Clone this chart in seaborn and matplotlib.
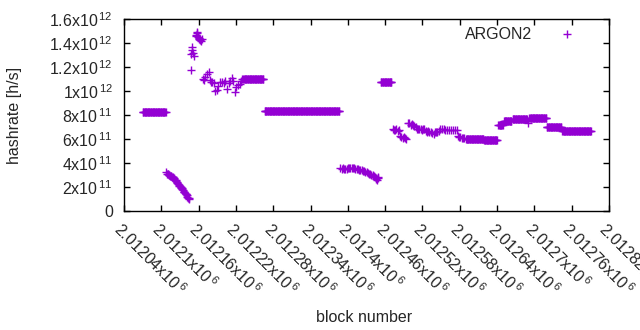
import numpy as np
import pandas as pd
import matplotlib
matplotlib.use('Agg')
import matplotlib.pyplot as plt
import seaborn as sns

# flat stretches of the series (first block, last block, hashrate)
flat_first = [2012070, 2012232, 2012266, 2012453, 2012590, 2012619, 2012642, 2012651, 2012665, 2012692, 2012720, 2012745]
flat_last = [2012107, 2012264, 2012386, 2012470, 2012618, 2012640, 2012649, 2012663, 2012688, 2012719, 2012743, 2012791]
flat_rate = [8.22e11, 1.10e12, 8.30e11, 1.071e12, 6.03e11, 5.94e11, 7.20e11, 7.46e11, 7.63e11, 7.71e11, 7.02e11, 6.69e11]

# falling stretch after the first plateau
drop_block = [2012108, 2012109, 2012110, 2012111, 2012112, 2012113, 2012114, 2012115, 2012116, 2012117,
              2012118, 2012119, 2012120, 2012121, 2012122, 2012123, 2012124, 2012125, 2012126, 2012127,
              2012128, 2012129, 2012130, 2012131, 2012132, 2012133, 2012134, 2012135, 2012136, 2012137,
              2012138, 2012139, 2012140, 2012141, 2012142, 2012143, 2012144, 2012145]
drop_rate = [3.22e11, 3.10e11, 3.08e11, 3.05e11, 2.98e11, 3.00e11, 2.94e11, 2.90e11, 2.88e11, 2.86e11,
             2.83e11, 2.78e11, 2.72e11, 2.67e11, 2.62e11, 2.55e11, 2.46e11, 2.39e11, 2.33e11, 2.25e11,
             2.17e11, 2.12e11, 2.05e11, 2.00e11, 1.95e11, 1.89e11, 1.80e11, 1.72e11, 1.61e11, 1.55e11,
             1.50e11, 1.45e11, 1.39e11, 1.30e11, 1.19e11, 1.12e11, 1.05e11, 1.00e11]

# spike and scattered cluster before the 1.1e12 plateau
spike_block = [2012147, 2012148, 2012149, 2012150, 2012151, 2012153, 2012155, 2012156, 2012157, 2012158,
               2012159, 2012160, 2012161, 2012162, 2012163, 2012164, 2012165,
               2012167, 2012169, 2012171, 2012174, 2012176, 2012178, 2012180, 2012182, 2012184, 2012187,
               2012189, 2012191, 2012195, 2012198, 2012201, 2012203, 2012206, 2012209, 2012211, 2012213,
               2012216, 2012218, 2012220, 2012223, 2012227, 2012228, 2012230]
spike_rate = [1.175e12, 1.31e12, 1.34e12, 1.37e12, 1.32e12, 1.29e12, 1.47e12, 1.46e12, 1.495e12, 1.48e12,
              1.45e12, 1.44e12, 1.43e12, 1.425e12, 1.43e12, 1.42e12, 1.43e12,
              1.10e12, 1.095e12, 1.12e12, 1.14e12, 1.16e12, 1.09e12, 1.075e12, 1.072e12, 1.07e12, 0.997e12,
              1.005e12, 1.04e12, 1.072e12, 1.075e12, 1.07e12, 1.083e12, 1.02e12, 1.064e12, 1.08e12, 1.11e12,
              1.08e12, 0.994e12, 1.03e12, 1.05e12, 1.058e12, 1.083e12, 1.10e12]

# second falling stretch around 3.5e11
low_block = [2012388, 2012390, 2012392, 2012394, 2012396, 2012398, 2012400, 2012402, 2012404, 2012406,
             2012408, 2012410, 2012412, 2012414, 2012416, 2012418, 2012420, 2012422, 2012424, 2012426,
             2012428, 2012430, 2012432, 2012434, 2012436, 2012438, 2012440, 2012442, 2012444, 2012445,
             2012446, 2012447, 2012448, 2012449]
low_rate = [3.56e11, 3.52e11, 3.55e11, 3.50e11, 3.50e11, 3.54e11, 3.58e11, 3.60e11, 3.61e11, 3.58e11,
            3.56e11, 3.55e11, 3.53e11, 3.50e11, 3.48e11, 3.45e11, 3.42e11, 3.38e11, 3.36e11, 3.32e11,
            3.28e11, 3.22e11, 3.17e11, 3.12e11, 3.08e11, 3.03e11, 2.99e11, 2.92e11, 2.80e11, 2.74e11,
            2.65e11, 2.62e11, 2.72e11, 2.80e11]

# wobbly stretch around 6.5e11
mid_block = [2012472, 2012474, 2012476, 2012478, 2012480, 2012482, 2012484, 2012486, 2012488, 2012490,
             2012492, 2012494, 2012497, 2012499, 2012501, 2012503, 2012505, 2012507, 2012509, 2012511,
             2012513, 2012515, 2012517, 2012519, 2012521, 2012523, 2012525, 2012527, 2012529, 2012531,
             2012533, 2012536, 2012538, 2012540, 2012542, 2012544, 2012546, 2012549, 2012551, 2012554,
             2012557, 2012560, 2012563, 2012566, 2012569, 2012572, 2012575, 2012577, 2012579, 2012581,
             2012583, 2012585, 2012587, 2012689]
mid_rate = [6.80e11, 6.78e11, 6.72e11, 6.80e11, 6.70e11, 6.72e11, 6.25e11, 6.17e11, 6.10e11, 6.20e11,
            6.12e11, 6.00e11, 7.36e11, 7.30e11, 7.20e11, 7.22e11, 7.15e11, 7.10e11, 7.00e11, 6.85e11,
            6.80e11, 6.80e11, 6.82e11, 6.78e11, 6.80e11, 6.80e11, 6.67e11, 6.62e11, 6.65e11, 6.60e11,
            6.55e11, 6.50e11, 6.45e11, 6.55e11, 6.60e11, 6.58e11, 6.65e11, 6.82e11, 6.85e11, 6.80e11,
            6.78e11, 6.76e11, 6.76e11, 6.75e11, 6.76e11, 6.75e11, 6.74e11, 6.25e11, 6.20e11, 6.15e11,
            6.10e11, 6.08e11, 6.05e11, 7.30e11]

# axis ticks
x_ticks = [2012040, 2012100, 2012160, 2012220, 2012280, 2012340, 2012400,
           2012460, 2012520, 2012580, 2012640, 2012700, 2012760, 2012820]
x_tick_text = ['2.01204', '2.0121', '2.01216', '2.01222', '2.01228', '2.01234', '2.0124',
               '2.01246', '2.01252', '2.01258', '2.01264', '2.0127', '2.01276', '2.01282']
y_ticks = [0, 2e11, 4e11, 6e11, 8e11, 1e12, 1.2e12, 1.4e12, 1.6e12]
y_mant = ['0', '2', '4', '6', '8', '1', '1.2', '1.4', '1.6']
y_exp = ['', '11', '11', '11', '11', '12', '12', '12', '12']

parts = []
for a, b, v in zip(flat_first, flat_last, flat_rate):
    blk = np.arange(a, b + 1)
    parts.append(pd.DataFrame({'block': blk, 'rate': [v] * len(blk)}))
for blk, r in [(drop_block, drop_rate), (spike_block, spike_rate),
               (low_block, low_rate), (mid_block, mid_rate)]:
    parts.append(pd.DataFrame({'block': blk, 'rate': r}))
df = pd.concat(parts).sort_values('block')

sns.set_style('ticks')
plt.rcParams['font.family'] = ['Liberation Sans', 'DejaVu Sans']
plt.rcParams['mathtext.fontset'] = 'custom'
plt.rcParams['mathtext.rm'] = 'Liberation Sans'
plt.rcParams['mathtext.it'] = 'Liberation Sans:italic'
fs = 11.5

fig = plt.figure(figsize=(6.4, 3.3), dpi=100)
ax = fig.add_axes([124 / 640, 119 / 330, 485 / 640, 192 / 330])

purple = '#9400d3'
sns.scatterplot(data=df, x='block', y='rate', marker='+', s=30, color=purple,
                linewidth=1, label='ARGON2', ax=ax)

ax.set_xlim(2012040, 2012820)
ax.set_ylim(0, 1.6e12)

ax.set_xticks(x_ticks)
ax.set_xticklabels([t + r'x10$^{\,\mathregular{6}}$' for t in x_tick_text],
                   rotation=-45, ha='left', va='top', rotation_mode='anchor', fontsize=fs)
ax.set_yticks(y_ticks)
ax.set_yticklabels([m if e == '' else m + r'x10$^{\,\mathregular{' + e + '}}$'
                    for m, e in zip(y_mant, y_exp)], fontsize=fs)

ax.tick_params(direction='in', length=4, width=1, top=True, right=True, color='black')
ax.tick_params(axis='x', pad=6)
ax.tick_params(axis='y', pad=8)
for sp in ax.spines.values():
    sp.set_visible(True)
    sp.set_linewidth(1)
    sp.set_color('black')

ax.set_xlabel('')
ax.set_ylabel('')
fig.text(15 / 640, 1 - 115 / 330, 'hashrate [h/s]', rotation=90, ha='center', va='center', fontsize=fs)
fig.text(364 / 640, 1 - 317 / 330, 'block number', ha='center', va='center', fontsize=fs)

ax.legend(loc='upper right', bbox_to_anchor=(0.946, 0.96), frameon=False, markerfirst=False,
          handlelength=2, handletextpad=1.2, borderaxespad=0, borderpad=0, fontsize=fs)

fig.savefig('out.png', dpi=100)
